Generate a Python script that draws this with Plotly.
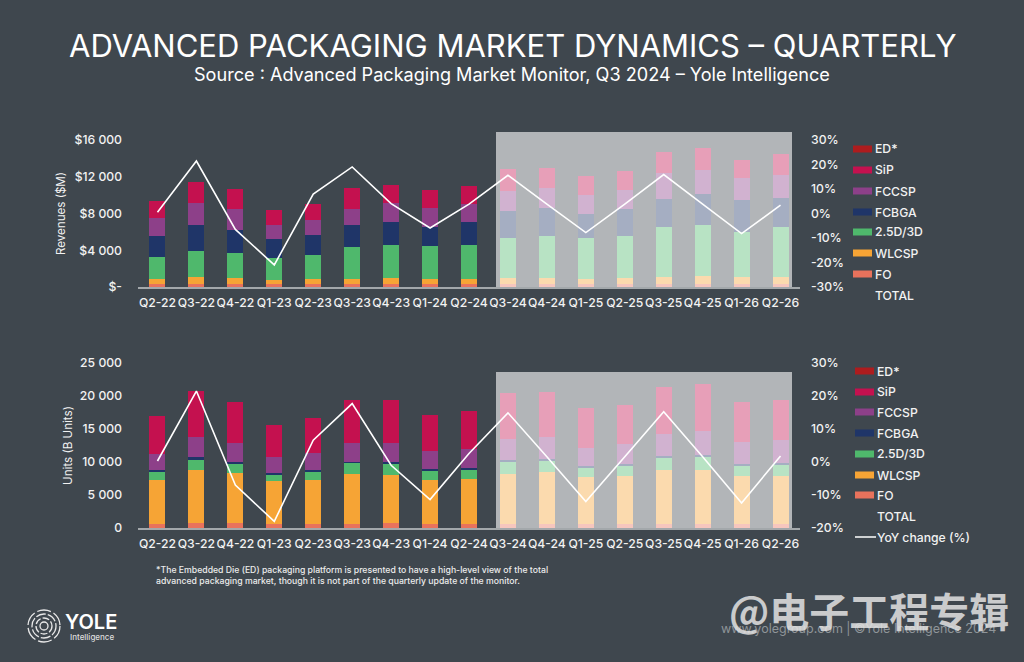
import plotly.graph_objects as go
from plotly.subplots import make_subplots

quarters = ['Q2-22', 'Q3-22', 'Q4-22', 'Q1-23', 'Q2-23', 'Q3-23', 'Q4-23', 'Q1-24', 'Q2-24',
            'Q3-24', 'Q4-24', 'Q1-25', 'Q2-25', 'Q3-25', 'Q4-25', 'Q1-26', 'Q2-26']

# Revenues ($M)
rev_fo = [360, 360, 360, 360, 360, 360, 360, 360, 360, 360, 360, 360, 360, 360, 360, 360, 360]
rev_wlcsp = [470, 690, 620, 400, 470, 540, 620, 470, 470, 620, 620, 540, 620, 730, 800, 730, 730]
rev_25d = [2430, 2900, 2720, 2430, 2650, 3450, 3630, 3590, 3770, 4390, 4540, 4460, 4610, 5410, 5550, 4860, 5480]
rev_fcbga = [2250, 2760, 2540, 2030, 2140, 2430, 2500, 2100, 2500, 2870, 3050, 2540, 2870, 3120, 3380, 3480, 3160]
rev_fccsp = [2000, 2400, 2250, 1560, 1710, 1740, 2030, 2070, 1960, 2210, 2250, 2070, 2140, 2800, 2690, 2430, 2430]
rev_sip = [1850, 2320, 2140, 1560, 1670, 2290, 1920, 1920, 1920, 2430, 2180, 2070, 2030, 2250, 2400, 1920, 2360]
rev_yoy = [0.5, 21.4, -6.5, -21, 7.9, 19, 4, -5.9, 3.8, 15.6, 3.8, -7.8, 3.8, 15.9, 3.8, -8.2, 3.4]

# Units (B Units)
unit_fo = [600, 710, 710, 600, 600, 600, 710, 600, 600, 600, 600, 600, 600, 600, 600, 600, 600]
unit_wlcsp = [6720, 8130, 7630, 6460, 6720, 7630, 7320, 6720, 6820, 7630, 7930, 7120, 7320, 8130, 8230, 7220, 7320]
unit_25d = [1260, 1510, 1360, 1110, 1310, 1620, 1720, 1410, 1510, 1820, 1720, 1510, 1510, 2020, 2020, 1620, 1720]
unit_fcbga = [150, 350, 250, 150, 150, 200, 200, 200, 200, 200, 200, 200, 200, 200, 250, 200, 200]
unit_fccsp = [2520, 3080, 2930, 2470, 2630, 2830, 2930, 2680, 2830, 3280, 3330, 2680, 3130, 3330, 3540, 3330, 3540]
unit_sip = [5660, 6920, 6160, 4750, 5250, 6560, 6560, 5560, 5710, 6920, 6820, 6060, 5810, 7070, 7220, 6060, 5960]
unit_yoy = [0.3, 21.5, -7, -18, 6.6, 17.7, -1, -11.4, 2.6, 14.9, 1.6, -12, 1.6, 15.2, 1.6, -12.4, 1.8]

rev_ticks = [0, 4000, 8000, 12000, 16000]
rev_tick_text = ['$-', '$4 000', '$8 000', '$12 000', '$16 000']
unit_ticks = [0, 5000, 10000, 15000, 20000, 25000]
unit_tick_text = ['0', '5 000', '10 000', '15 000', '20 000', '25 000']
rev_pct_ticks = [-30, -20, -10, 0, 10, 20, 30]
unit_pct_ticks = [-20, -10, 0, 10, 20, 30]

legend_names = ['ED*', 'SiP', 'FCCSP', 'FCBGA', '2.5D/3D', 'WLCSP', 'FO']
legend_colors = ['#ad1c1e', '#c4114f', '#8d4089', '#1f3568', '#4fb86c', '#f6a435', '#e8725c']

BG = '#3f474e'
FONT = 'Inter'
W, H = 1024, 662


def px(x):
    return x / W


def py(y):
    return 1 - y / H


fig = make_subplots(rows=2, cols=1, specs=[[{'secondary_y': True}], [{'secondary_y': True}]])

top_series = [('FO', rev_fo), ('WLCSP', rev_wlcsp), ('2.5D/3D', rev_25d),
              ('FCBGA', rev_fcbga), ('FCCSP', rev_fccsp), ('SiP', rev_sip)]
bottom_series = [('FO', unit_fo), ('WLCSP', unit_wlcsp), ('2.5D/3D', unit_25d),
                 ('FCBGA', unit_fcbga), ('FCCSP', unit_fccsp), ('SiP', unit_sip)]
color_of = dict(zip(legend_names, legend_colors))

for row, series, yoy in [(1, top_series, rev_yoy), (2, bottom_series, unit_yoy)]:
    for name, values in series:
        fig.add_trace(go.Bar(x=quarters, y=values, name=name, marker_color=color_of[name],
                             marker_line_width=0, showlegend=False), row=row, col=1, secondary_y=False)
    fig.add_trace(go.Scatter(x=quarters, y=yoy, mode='lines', name='YoY change (%)',
                             line=dict(color='white', width=1.6), showlegend=False),
                  row=row, col=1, secondary_y=True)

tick_font = dict(family=FONT, size=12.2, color='#f2f2f2', weight=500)
title_font = dict(family=FONT, size=11.6, color='#f2f2f2')
domain_x = [px(138), px(800)]

fig.update_xaxes(domain=domain_x, type='category', tickfont=tick_font, showgrid=False, zeroline=False,
                 showline=True, linecolor='#a3a8ab', linewidth=1.5, ticks='', ticklabelstandoff=4,
                 tickangle=0, automargin=False)
fig.update_yaxes(automargin=False)

fig.update_yaxes(domain=[py(287), py(140)], row=1, col=1)
fig.update_yaxes(domain=[py(528), py(363)], row=2, col=1)

fig.update_yaxes(range=[0, 16000], tickvals=rev_ticks, ticktext=rev_tick_text, tickfont=tick_font,
                 showgrid=False, zeroline=False, ticklabelstandoff=15,
                 title=dict(text='Revenues ($M)', font=title_font, standoff=6),
                 row=1, col=1, secondary_y=False)
fig.update_yaxes(range=[0, 25000], tickvals=unit_ticks, ticktext=unit_tick_text, tickfont=tick_font,
                 showgrid=False, zeroline=False, ticklabelstandoff=15,
                 title=dict(text='Units (B Units)', font=title_font, standoff=4),
                 row=2, col=1, secondary_y=False)
fig.update_yaxes(range=[-30, 30], tickvals=rev_pct_ticks, ticktext=[f'{v}%' for v in rev_pct_ticks],
                 tickfont=tick_font, showgrid=False, zeroline=False, ticklabelstandoff=10,
                 row=1, col=1, secondary_y=True)
fig.update_yaxes(range=[-20, 30], tickvals=unit_pct_ticks, ticktext=[f'{v}%' for v in unit_pct_ticks],
                 tickfont=tick_font, showgrid=False, zeroline=False, ticklabelstandoff=10,
                 row=2, col=1, secondary_y=True)

shapes = []
annotations = []


def label(x, y, text, size=12.2, color='#f2f2f2', xanchor='left', family=FONT, weight=500):
    annotations.append(dict(x=px(x), y=py(y), xref='paper', yref='paper', text=text, showarrow=False,
                            xanchor=xanchor, yanchor='middle', align='left',
                            font=dict(family=family, size=size, color=color, weight=weight)))


# forecast veil, above the bars
for top, bottom in [(132, 287), (372, 528)]:
    shapes.append(dict(type='rect', xref='paper', yref='paper', x0=px(496), x1=px(792), y0=py(bottom), y1=py(top),
                       fillcolor='rgba(255,255,255,0.6)', line_width=0, layer='above'))

# hand placed legends, spacing is tighter than a plotly legend allows
legend_rows = [(853, 873, [149, 170, 191, 212, 232, 253, 274], 295),
               (855, 875, [371, 392, 412, 433, 454, 475, 495], 516)]
for x0, text_x, ys, total_y in legend_rows:
    for name, color, y in zip(legend_names, legend_colors, ys):
        shapes.append(dict(type='rect', xref='paper', yref='paper', x0=px(x0), x1=px(x0 + 19),
                           y0=py(y + 3.5), y1=py(y - 3.5), fillcolor=color, line_width=0))
        label(text_x, y, name)
    label(text_x, total_y, 'TOTAL')
shapes.append(dict(type='line', xref='paper', yref='paper', x0=px(855), x1=px(876), y0=py(537), y1=py(537),
                   line=dict(color='white', width=1.5)))
label(875, 537, 'YoY change (%)')

# logo rings
for r, dash in [(16, '14px,3px'), (12, '10px,2px'), (8, '7px,2px'), (4, 'solid')]:
    shapes.append(dict(type='circle', xref='paper', yref='paper', x0=px(44 - r), x1=px(44 + r),
                       y0=py(626 + r), y1=py(626 - r), line=dict(color='#e8e8e8', width=1.3, dash=dash)))

label(512, 45, 'ADVANCED PACKAGING MARKET DYNAMICS – QUARTERLY', size=31, color='white', xanchor='center', weight=400)
label(512, 74, 'Source : Advanced Packaging Market Monitor, Q3 2024 – Yole Intelligence', size=18.1,
      color='white', xanchor='center', weight=400)
label(154, 570, '*The Embedded Die (ED) packaging platform is presented to have a high-level view of the total',
      size=8.7, color='#ececec')
label(154, 581, 'advanced packaging market, though it is not part of the quarterly update of the monitor.',
      size=8.7, color='#ececec')
label(63, 622, 'YOLE', size=20, color='white', weight=600)
label(68, 637, 'Intelligence', size=8, color='#dddddd')
label(719, 628, 'www.yolegroup.com | ©Yole Intelligence 2024', size=12.5, color='#8f9599', weight=400)
label(869, 610, '@电子工程专辑', size=40, color='rgba(228,228,228,0.85)', xanchor='center',
      family='Noto Sans CJK SC', weight=700)

fig.update_layout(barmode='stack', bargap=0.59, paper_bgcolor=BG, plot_bgcolor=BG,
                  font=dict(family=FONT, color='#f2f2f2'), width=W, height=H,
                  margin=dict(l=0, r=0, t=0, b=0), showlegend=False,
                  shapes=shapes, annotations=annotations)

fig.write_html("out.html", config={'displayModeBar': False}, post_script="document.body.style.margin = '0';")
